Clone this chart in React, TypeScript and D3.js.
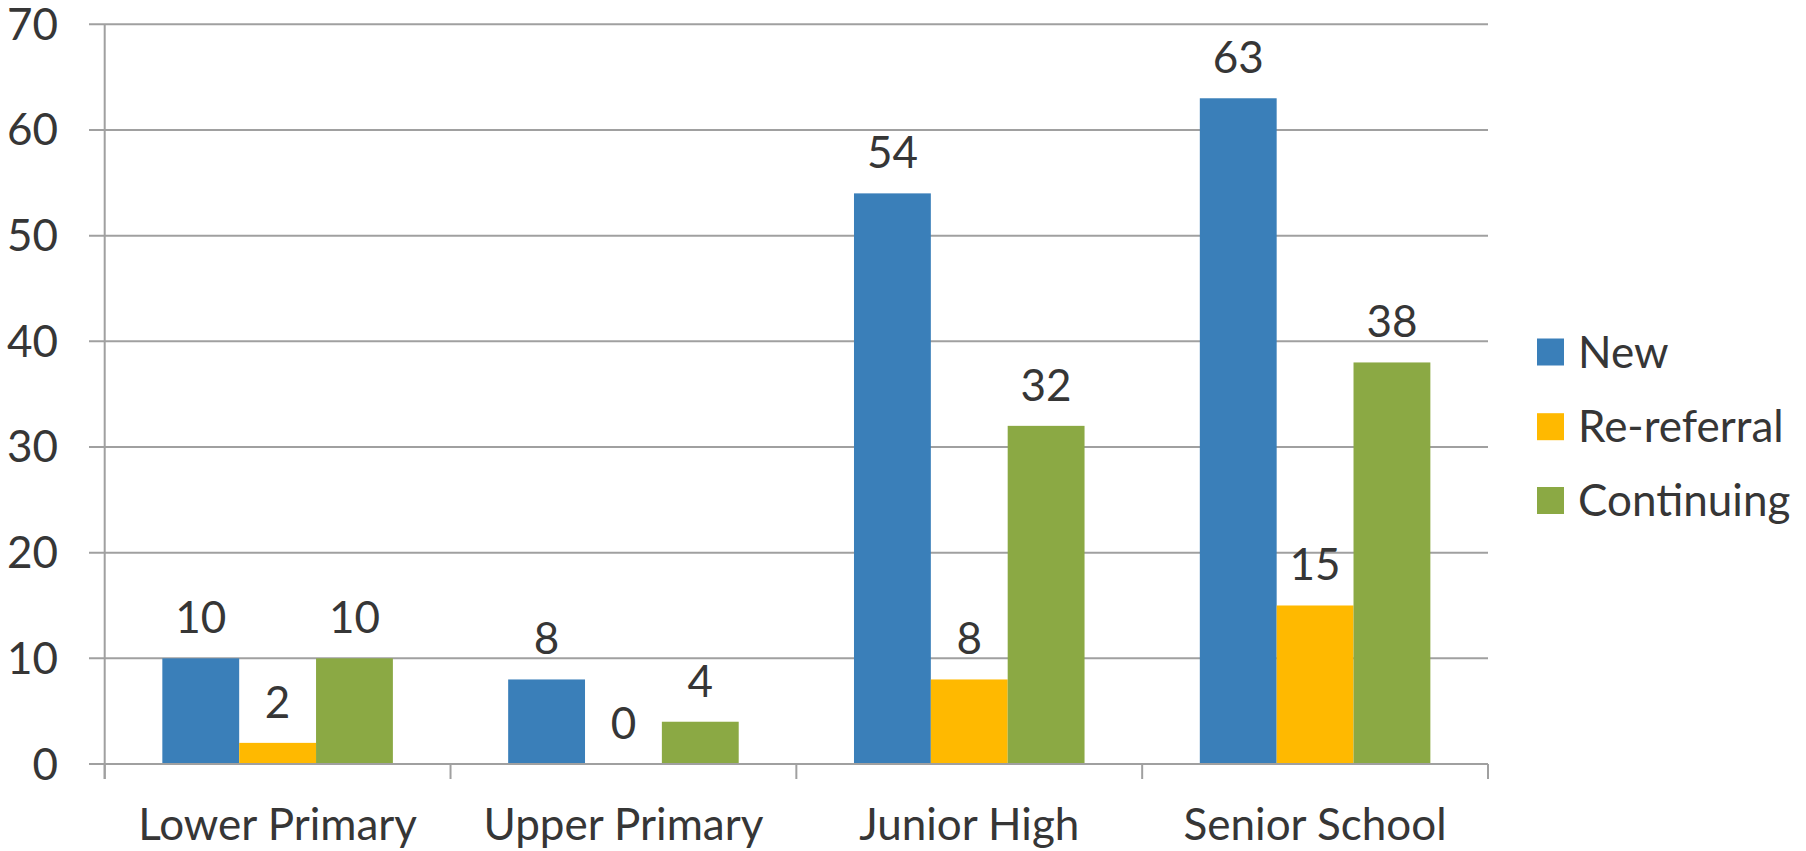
import React from "react";
import * as d3 from "d3";

// School level categories and referral counts per series
const categories = ["Lower Primary", "Upper Primary", "Junior High", "Senior School"];
const seriesNames = ["New", "Re-referral", "Continuing"];
const newValues = [10, 8, 54, 63];
const reReferralValues = [2, 0, 8, 15];
const continuingValues = [10, 4, 32, 38];
const yTicks = [0, 10, 20, 30, 40, 50, 60, 70];
const seriesColors = ["#3a7fb9", "#ffb900", "#8ba944"];

const W = 1806;
const H = 851;
const FONT = "Lato, 'Open Sans', sans-serif";
const FS = 44;
const TEXT = "#363636";
const GRID = "#a0a0a0";

const plotLeft = 104.7;
const plotRight = 1488;
const plotTop = 24.3;
const plotBottom = 764;

export default function App() {
  const seriesValues = [newValues, reReferralValues, continuingValues];

  const y = d3.scaleLinear().domain([0, 70]).range([plotBottom, plotTop]);
  const x0 = d3.scaleBand<string>().domain(categories).range([plotLeft, plotRight]).padding(0);
  const step = x0.step();
  // 150% gap between groups: bars occupy the middle two thirds of each slot
  const x1 = d3
    .scaleBand<string>()
    .domain(seriesNames)
    .range([step / 6, (step * 5) / 6])
    .padding(0);

  const boundaries = categories.map((c) => x0(c) as number).concat([plotRight]);

  const legendX = 1537;
  const legendSize = 27;
  const legendCenters = [352, 426.7, 500.5];

  return (
    <svg
      width={W}
      height={H}
      style={{ position: "absolute", left: 0, top: 0, display: "block", background: "#fff" }}
      fontFamily={FONT}
    >
      {/* horizontal gridlines with left tick marks */}
      {yTicks.map((t) => (
        <line key={"g" + t} x1={89} x2={plotRight} y1={y(t)} y2={y(t)} stroke={GRID} strokeWidth={2} />
      ))}
      {/* value axis line */}
      <line x1={plotLeft} x2={plotLeft} y1={plotTop} y2={779} stroke={GRID} strokeWidth={2} />
      {/* category boundary ticks */}
      {boundaries.map((bx, i) => (
        <line key={"t" + i} x1={bx} x2={bx} y1={plotBottom} y2={779} stroke={GRID} strokeWidth={2} />
      ))}

      {/* y tick labels */}
      {yTicks.map((t) => (
        <text
          key={"yl" + t}
          x={58}
          y={y(t) + 15.5}
          textAnchor="end"
          fontSize={FS}
          fill={TEXT}
        >
          {t}
        </text>
      ))}

      {/* bars */}
      {categories.map((c, ci) => (
        <g key={c} transform={`translate(${x0(c)},0)`}>
          {seriesNames.map((s, si) => {
            const v = seriesValues[si][ci];
            const bx = x1(s) as number;
            return (
              <rect
                key={s}
                x={bx}
                y={y(v)}
                width={x1.bandwidth()}
                height={plotBottom - y(v)}
                fill={seriesColors[si]}
              />
            );
          })}
        </g>
      ))}
      {/* redraw baseline over bars */}
      <line x1={89} x2={plotRight} y1={plotBottom} y2={plotBottom} stroke={GRID} strokeWidth={2} />

      {/* data labels */}
      {categories.map((c, ci) =>
        seriesNames.map((s, si) => {
          const v = seriesValues[si][ci];
          const cx = (x0(c) as number) + (x1(s) as number) + x1.bandwidth() / 2;
          return (
            <text
              key={c + s}
              x={cx}
              y={y(v) - 25}
              textAnchor="middle"
              fontSize={FS}
              fill={TEXT}
            >
              {v}
            </text>
          );
        })
      )}

      {/* category labels */}
      {categories.map((c) => (
        <text
          key={"cl" + c}
          x={(x0(c) as number) + step / 2}
          y={840}
          textAnchor="middle"
          fontSize={FS}
          fill={TEXT}
        >
          {c}
        </text>
      ))}

      {/* legend */}
      {seriesNames.map((s, i) => (
        <g key={"lg" + s}>
          <rect
            x={legendX}
            y={legendCenters[i] - legendSize / 2}
            width={legendSize}
            height={legendSize}
            fill={seriesColors[i]}
          />
          <text x={1578} y={legendCenters[i] + 15.5} fontSize={FS} fill={TEXT}>
            {s}
          </text>
        </g>
      ))}
    </svg>
  );
}
